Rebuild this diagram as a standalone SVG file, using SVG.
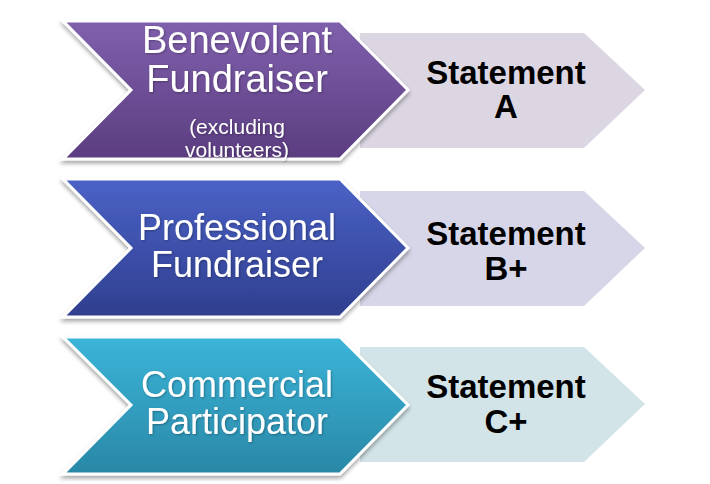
<svg xmlns="http://www.w3.org/2000/svg" width="710" height="484" viewBox="0 0 710 484">
<defs>
<linearGradient id="gP" x1="0" y1="0" x2="0" y2="1"><stop offset="0" stop-color="#8060ad"/><stop offset="1" stop-color="#5b3d80"/></linearGradient>
<linearGradient id="gB" x1="0" y1="0" x2="0" y2="1"><stop offset="0" stop-color="#4b62c6"/><stop offset="1" stop-color="#2f3e8e"/></linearGradient>
<linearGradient id="gT" x1="0" y1="0" x2="0" y2="1"><stop offset="0" stop-color="#3bb5d9"/><stop offset="1" stop-color="#2a87a6"/></linearGradient>
<filter id="sh" x="-10%" y="-10%" width="120%" height="130%">
<feGaussianBlur in="SourceAlpha" stdDeviation="2"/><feOffset dx="0" dy="3"/><feComponentTransfer><feFuncA type="linear" slope="0.35"/></feComponentTransfer>
<feMerge><feMergeNode/><feMergeNode in="SourceGraphic"/></feMerge></filter>
<filter id="ts" x="-5%" y="-5%" width="110%" height="120%">
<feGaussianBlur in="SourceAlpha" stdDeviation="1"/><feOffset dx="1" dy="1"/><feComponentTransfer><feFuncA type="linear" slope="0.3"/></feComponentTransfer>
<feMerge><feMergeNode/><feMergeNode in="SourceGraphic"/></feMerge></filter>
</defs>
<style>
.big{stroke:#ffffff;stroke-width:3;stroke-linejoin:miter}
.w{font-family:"Liberation Sans",Arial,sans-serif;fill:#ffffff;text-anchor:middle}
.k{font-family:"Liberation Sans",Arial,sans-serif;fill:#000000;font-weight:bold;font-size:33px;text-anchor:middle}
</style>
<rect width="710" height="484" fill="#ffffff"/>
<g id="statement-a">
<polygon points="360,33 584,33 645,90 584,148 360,148" fill="#dcd6e2"/>
<text class="k" x="506" y="84">Statement</text>
<text class="k" x="506" y="118">A</text>
</g>
<g id="statement-b">
<polygon points="360,191 584,191 645,248 584,306 360,306" fill="#d6d6e8"/>
<text class="k" x="506" y="245">Statement</text>
<text class="k" x="506" y="280">B+</text>
</g>
<g id="statement-c">
<polygon points="360,347 584,347 645,404 584,462 360,462" fill="#d3e4e8"/>
<text class="k" x="506" y="398">Statement</text>
<text class="k" x="506" y="433">C+</text>
</g>
<g id="benevolent">
<polygon class="big" filter="url(#sh)" points="63,21 340,21 408,90 340,159 63,159 131,90" fill="url(#gP)"/>
<g filter="url(#ts)">
<text class="w" x="237" y="53" font-size="38">Benevolent</text>
<text class="w" x="237" y="92" font-size="38">Fundraiser</text>
<text class="w" x="237" y="134" font-size="21">(excluding</text>
<text class="w" x="237" y="157" font-size="21">volunteers)</text>
</g>
</g>
<g id="professional">
<polygon class="big" filter="url(#sh)" points="63,179 340,179 408,248 340,317 63,317 131,248" fill="url(#gB)"/>
<g filter="url(#ts)">
<text class="w" x="237" y="240" font-size="36">Professional</text>
<text class="w" x="237" y="277" font-size="36">Fundraiser</text>
</g>
</g>
<g id="commercial">
<polygon class="big" filter="url(#sh)" points="63,337 340,337 408,405 340,474 63,474 131,405" fill="url(#gT)"/>
<g filter="url(#ts)">
<text class="w" x="237" y="397" font-size="36">Commercial</text>
<text class="w" x="237" y="434" font-size="36">Participator</text>
</g>
</g>
<g id="connectors"/>
</svg>
